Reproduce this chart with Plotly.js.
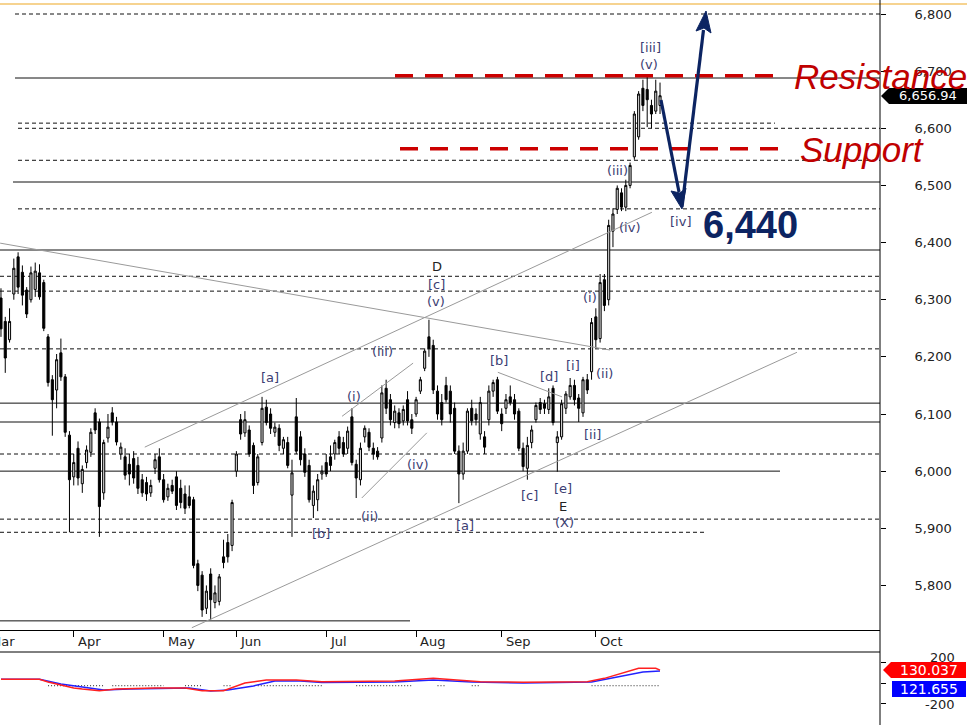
<!DOCTYPE html>
<html><head><meta charset="utf-8">
<script src="https://cdn.plot.ly/plotly-3.0.1.min.js"></script>
<style>html,body{margin:0;padding:0;background:#fff;overflow:hidden}#chart{width:967px;height:725px}</style>
</head><body><div id="chart"></div>
<script>
// ---------- data (daily candles, trading-day index) ----------
const openP = [6303,6262,6230,6310,6375,6348,6317,6300,6318,6347,6330,6235,6160,6142,6207,6165,6063,
5990,6040,5978,6015,6033,6102,6086,5962,6058,6102,6086,6030,6025,6012,6022,6010,5985,5980,5962,6005,6025,
5985,5955,5975,5990,5970,5960,5955,5950,5838,5818,5760,5820,5770,5772,5850,5875,5870,
6000,6090,6067,6072,6045,5980,6050,6112,6100,6068,6075,6040,6050,5958,6095,6060,6030,6010,5940,5950,5995,
6015,6025,6030,6060,6050,6040,6095,6012,5985,6060,6068,6040,6035,6058,6145,6125,6085,6102,6088,6125,6090,
6100,6140,6180,6235,6220,6140,6120,6150,6140,6110,6035,5995,6035,6110,6100,6065,6060,6090,6140,6160,
6100,6110,6130,6125,6105,6040,6005,6050,6090,6120,6118,6108,6145,6050,6060,6110,6130,6150,6128,6102,6160,6174,
6270,6232,6335,6300,6420,6458,6487,6462,6500,6550,6585,6670,6668,6640,6630,6640];
const highP = [6320,6270,6285,6372,6383,6360,6322,6358,6365,6362,6335,6240,6168,6205,6232,6170,6070,
6030,6052,6010,6045,6075,6110,6092,6055,6100,6112,6095,6050,6040,6030,6035,6025,5995,5990,5985,6030,6040,
5995,5978,5985,6000,5985,5975,5975,5955,5845,5825,5800,5830,5800,5820,5880,5890,5950,
6035,6100,6105,6080,6050,6030,6130,6125,6110,6085,6082,6060,6060,6020,6128,6070,6040,6020,5975,5995,6010,
6030,6045,6055,6070,6060,6078,6110,6020,6050,6080,6075,6050,6042,6150,6160,6135,6115,6110,6115,6140,6100,
6130,6165,6215,6265,6230,6150,6135,6165,6150,6120,6045,6050,6110,6125,6110,6130,6070,6150,6160,6165,
6110,6135,6150,6135,6110,6050,6060,6080,6120,6128,6125,6145,6150,6070,6125,6140,6163,6160,6135,6165,6170,6268,
6285,6345,6345,6440,6460,6500,6495,6510,6540,6630,6665,6685,6690,6650,6685,6680];
const lowP = [6235,6172,6225,6300,6310,6290,6268,6295,6305,6300,6245,6148,6062,6110,6158,6060,5893,
5975,5975,5962,6005,6025,6065,5885,5950,6050,6080,6045,6020,5985,5975,5978,5960,5955,5948,5955,5995,5980,
5945,5948,5960,5932,5935,5925,5935,5830,5790,5745,5750,5740,5760,5765,5830,5840,5860,
5990,6055,6060,6025,5960,5975,6045,6080,6065,6060,6035,6030,6005,5885,6030,6010,5990,5945,5918,5930,5985,
5990,6000,6020,6030,6025,6030,6010,5953,5975,6050,6035,6020,6020,6050,6100,6080,6075,6075,6080,6080,6065,
6095,6135,6175,6200,6135,6090,6080,6120,6085,6030,5944,5985,6030,6080,6080,6055,6030,6080,6130,6100,
6070,6100,6115,6090,6035,6000,5985,6040,6085,6100,6100,6100,6080,5999,6055,6100,6125,6115,6086,6095,6135,6160,
6215,6225,6280,6290,6392,6450,6455,6455,6495,6545,6580,6630,6602,6600,6625,6625];
const closeP = [6249,6198,6262,6355,6322,6308,6275,6347,6350,6305,6250,6155,6125,6195,6165,6068,5985,
6015,5988,6003,6037,6068,6072,5938,6050,6077,6086,6051,6042,5993,5995,5988,5970,5962,5960,5975,6020,5985,
5950,5970,5965,5940,5945,5935,5940,5835,5800,5757,5790,5775,5787,5815,5840,5850,5945,
6030,6065,6090,6030,5975,6025,6110,6085,6075,6077,6045,6055,6010,5997,6035,6020,5998,5950,5965,5985,6000,
5995,6010,6050,6040,6030,6070,6015,5988,6040,6075,6042,6030,6025,6137,6110,6090,6105,6083,6108,6088,6075,
6125,6160,6210,6215,6142,6100,6090,6125,6100,6035,5995,6035,6105,6088,6090,6120,6042,6140,6155,6105,
6083,6125,6120,6100,6040,6008,6045,6072,6115,6108,6110,6130,6085,6060,6118,6135,6150,6125,6110,6160,6142,6260,
6230,6330,6290,6430,6450,6495,6462,6500,6535,6625,6660,6640,6650,6625,6665,6657];
const dayIdx = closeP.map((_, i) => i);

const monthTickIdx = [17, 38, 55, 76, 97, 117, 139];
const monthLabels = ['Apr', 'May', 'Jun', 'Jul', 'Aug', 'Sep', 'Oct'];
const priceTicks = [5800, 5900, 6000, 6100, 6200, 6300, 6400, 6500, 6600, 6700, 6800];

const solidLevels = [6688, 6506, 6387, 6119, 6086, 6000, 5738];
const dashedLevels = [6800, 6609, 6600, 6544, 6459, 6341, 6315, 6214, 6030, 5916, 5893];
const resistanceLevel = 6692;
const supportLevel = 6564;
const lastPrice = '6,656.94';
const targetLabel = '6,440';

// trendlines: [idx0, price0, idx1, price1]
const trendLines = [
  [-0.2, 6399, 142.3, 6212],
  [33.6, 6042, 152.1, 6453],
  [44.6, 5726, 186.0, 6208],
  [79.7, 6096, 96.3, 6189],
  [84.3, 5953, 99.5, 6067],
  [116.1, 6173, 131.1, 6130]
];

// indicator panel
const redIdx = [0, 9, 11, 17, 19, 23, 27, 36, 43, 47, 52, 57, 62, 69, 75, 86, 92, 101, 106, 112, 122, 137, 141, 149, 153, 154];
const redVal = [41, 41, 15, -44, -54, -70, -54, -44, -44, -70, -70, 5, 34, 34, 18, 18, 24, 50, 34, 18, 12, 18, 50, 148, 148, 130];
const blueIdx = [0, 9, 14, 21, 24, 30, 40, 44, 49, 53, 59, 64, 70, 75, 92, 101, 110, 122, 138, 143, 150, 154];
const blueVal = [41, 41, -5, -44, -63, -54, -44, -44, -73, -63, -24, 24, 24, 10, 15, 34, 15, 5, 15, 54, 112, 122];
const dotIdx = [11, 24, null, 26, 38, null, 43, 47, null, 52, 54, null, 60, 75, null, 83, 96, null, 102, 104, null, 110, 112, null, 138, 154];
const dotVal = [-22, -22, null, -22, -22, null, -22, -22, null, -22, -22, null, -22, -22, null, -22, -22, null, -22, -22, null, -22, -22, null, -22, -22];
const redLast = '130.037', blueLast = '121.655';

const waveLabels = [
  ['[iii]', 650, 47], ['(v)', 649, 65], ['(iii)', 617, 170], ['(iv)', 629, 227], ['[iv]', 680, 221],
  ['(i)', 590, 297], ['(ii)', 604, 373], ['[i]', 573, 365], ['[ii]', 592, 434], ['[d]', 549, 376],
  ['[b]', 499, 361], ['D', 437, 266], ['[c]', 436, 284], ['(v)', 436, 301], ['(iii)', 382, 351],
  ['(i)', 354, 396], ['(iv)', 417, 464], ['(ii)', 369, 516], ['[a]', 270, 377], ['[b]', 321, 533],
  ['[a]', 465, 525], ['[c]', 529, 495], ['[e]', 563, 488], ['E', 563, 506], ['(X)', 564, 522]
];

// ---------- layout helpers ----------
const PW = 880, PH = 725;
const X = px => px / PW;
const Y = py => 1 - py / PH;
const FONT = 'DejaVu Sans';
const navy = '#0c2462';

const traces = [];
trendLines.forEach(t => traces.push({
  type: 'scatter', mode: 'lines', x: [t[0], t[2]], y: [t[1], t[3]],
  line: {color: '#9a9a9a', width: 1}, hoverinfo: 'skip', showlegend: false, xaxis: 'x', yaxis: 'y'
}));
traces.push({
  type: 'candlestick', x: dayIdx, open: openP, high: highP, low: lowP, close: closeP,
  increasing: {line: {color: '#000', width: 1}, fillcolor: '#d6d6d6'},
  decreasing: {line: {color: '#000', width: 1}, fillcolor: '#000'},
  whiskerwidth: 0, hoverinfo: 'skip', showlegend: false, xaxis: 'x', yaxis: 'y'
});
traces.push({type: 'scatter', mode: 'lines', x: dotIdx, y: dotVal, line: {color: '#222', width: 1, dash: '1px,2px'},
  hoverinfo: 'skip', showlegend: false, xaxis: 'x2', yaxis: 'y2', connectgaps: false});
traces.push({type: 'scatter', mode: 'lines', x: blueIdx, y: blueVal, line: {color: '#2222ff', width: 1.5},
  hoverinfo: 'skip', showlegend: false, xaxis: 'x2', yaxis: 'y2'});
traces.push({type: 'scatter', mode: 'lines', x: redIdx, y: redVal, line: {color: '#ff2020', width: 1.5},
  hoverinfo: 'skip', showlegend: false, xaxis: 'x2', yaxis: 'y2'});

const shapes = [];
const solidExt = [[15, 880], [13, 880], [0, 880], [0, 880], [0, 880], [0, 780], [0, 410]];
solidLevels.forEach((v, i) => shapes.push({type: 'line', xref: 'paper', yref: 'y', x0: X(solidExt[i][0]), x1: X(solidExt[i][1]),
  y0: v, y1: v, line: {color: '#111', width: 1}, layer: 'below'}));
const dashExt = [[15, 880], [18, 775], [18, 880], [18, 880], [18, 880], [0, 880], [0, 880], [0, 880], [0, 880], [0, 880], [0, 705]];
dashedLevels.forEach((v, i) => shapes.push({type: 'line', xref: 'paper', yref: 'y', x0: X(dashExt[i][0]), x1: X(dashExt[i][1]),
  y0: v, y1: v, line: {color: '#111', width: 1, dash: '4px,3px'}, layer: 'below'}));
// red dashed resistance / support
shapes.push({type: 'line', xref: 'paper', yref: 'y', x0: X(395), x1: X(778), y0: resistanceLevel, y1: resistanceLevel,
  line: {color: '#cc0000', width: 3.5, dash: '18px,12px'}});
shapes.push({type: 'line', xref: 'paper', yref: 'y', x0: X(400), x1: X(778), y0: supportLevel, y1: supportLevel,
  line: {color: '#cc0000', width: 3.5, dash: '18px,12px'}});
// top orange border, right border, date band bottom
shapes.push({type: 'line', xref: 'paper', yref: 'paper', x0: 0, x1: X(967), y0: Y(4), y1: Y(4), line: {color: '#f6d390', width: 2}});
shapes.push({type: 'line', xref: 'paper', yref: 'paper', x0: 1, x1: 1, y0: 0, y1: 1, line: {color: '#000', width: 1}});
shapes.push({type: 'line', xref: 'paper', yref: 'paper', x0: 0, x1: 1, y0: Y(652), y1: Y(652), line: {color: '#000', width: 1}});
// forecast arrows
const arrowPath = pts => 'M ' + pts.map(p => X(p[0]) + ' ' + Y(p[1])).join(' L ') + ' Z';
shapes.push({type: 'line', xref: 'paper', yref: 'paper', x0: X(661), y0: Y(100), x1: X(679), y1: Y(192), line: {color: navy, width: 3.2}});
shapes.push({type: 'path', xref: 'paper', yref: 'paper', path: arrowPath([[682, 209], [686, 188], [680, 193], [671, 191]]), fillcolor: navy, line: {color: navy, width: 1}});
shapes.push({type: 'line', xref: 'paper', yref: 'paper', x0: X(682), y0: Y(207), x1: X(703.5), y1: Y(30), line: {color: navy, width: 3.2}});
shapes.push({type: 'path', xref: 'paper', yref: 'paper', path: arrowPath([[706, 11], [711, 33], [704, 28], [696, 31]]), fillcolor: navy, line: {color: navy, width: 1}});
// price tag boxes
shapes.push({type: 'path', xref: 'paper', yref: 'paper', path: arrowPath([[881, 96], [889, 88], [967, 88], [967, 104], [889, 104]]), fillcolor: '#000', line: {width: 0}});
shapes.push({type: 'path', xref: 'paper', yref: 'paper', path: arrowPath([[883, 670], [891, 662], [966, 662], [966, 678], [891, 678]]), fillcolor: '#ff0000', line: {width: 0}});
shapes.push({type: 'path', xref: 'paper', yref: 'paper', path: arrowPath([[892, 681], [966, 681], [966, 697], [892, 697]]), fillcolor: '#0000ff', line: {width: 0}});

const annotations = [];
const lab = (text, x, y, font, extra) => Object.assign({text, xref: 'paper', yref: 'paper', x: X(x), y: Y(y),
  xanchor: 'center', yanchor: 'middle', showarrow: false, font}, extra || {});
waveLabels.forEach(w => annotations.push(lab(w[0], w[1], w[2],
  {family: FONT, size: 13, color: (w[0] === 'D' || w[0] === 'E') ? '#222' : '#3b3d72'})));
annotations.push(lab('Resistance', 880, 77, {family: 'Liberation Sans', size: 35, color: '#c00000', style: 'italic'}));
annotations.push(lab('Support', 862, 150, {family: 'Liberation Sans', size: 35, color: '#c00000', style: 'italic'}));
annotations.push(lab(targetLabel, 750, 225, {family: 'Liberation Sans', size: 38, color: navy, weight: 'bold'}));
annotations.push(lab(lastPrice, 928, 96, {family: FONT, size: 13, color: '#fff'}));
annotations.push(lab(redLast, 929, 670, {family: FONT, size: 14, color: '#fff'}));
annotations.push(lab(blueLast, 929, 689, {family: FONT, size: 14, color: '#fff'}));
annotations.push(lab('200', 957, 657, {family: FONT, size: 13, color: '#222'}, {xanchor: 'right'}));
annotations.push(lab('-200', 957, 704, {family: FONT, size: 13, color: '#222'}, {xanchor: 'right'}));
// month labels
annotations.push(lab('Mar', -12, 641, {family: FONT, size: 13, color: '#222'}, {xanchor: 'left'}));
monthTickIdx.forEach((k, i) => annotations.push({text: monthLabels[i], xref: 'x', yref: 'paper', x: k, y: Y(641),
  xanchor: 'left', yanchor: 'middle', xshift: 2, showarrow: false, font: {family: FONT, size: 13, color: '#222'}}));

const layout = {
  width: 967, height: 725, margin: {l: 0, r: 87, t: 0, b: 0}, paper_bgcolor: '#fff', plot_bgcolor: '#fff',
  showlegend: false, font: {family: FONT, size: 13, color: '#222'},
  xaxis: {domain: [0, 1], range: [-0.23, 205.4], anchor: 'y', showgrid: false, zeroline: false,
    showline: true, linecolor: '#000', linewidth: 1, ticks: 'outside', ticklen: 6, tickcolor: '#000',
    tickvals: monthTickIdx, showticklabels: false, rangeslider: {visible: false}, fixedrange: true},
  xaxis2: {domain: [0, 1], range: [-0.23, 205.4], anchor: 'y2', showgrid: false, zeroline: false,
    showline: false, ticks: '', showticklabels: false, fixedrange: true},
  yaxis: {domain: [Y(630), Y(4)], range: [5722, 6817.5], side: 'right', anchor: 'x', showgrid: false, zeroline: false,
    showline: false, ticks: 'outside', ticklen: 5, tickcolor: '#000', tickvals: priceTicks,
    ticktext: priceTicks.map(v => v.toLocaleString('en-US')), ticklabelstandoff: 26,
    tickfont: {family: FONT, size: 13, color: '#222'}, fixedrange: true},
  yaxis2: {domain: [0, Y(652)], range: [-405, 307], side: 'right', anchor: 'x2', showgrid: false, zeroline: false,
    showline: false, ticks: 'outside', ticklen: 5, tickcolor: '#000', tickvals: [-200, 0, 200],
    showticklabels: false, fixedrange: true},
  shapes, annotations
};

Plotly.newPlot('chart', traces, layout, {displayModeBar: false, staticPlot: true});
</script>
</body></html>
